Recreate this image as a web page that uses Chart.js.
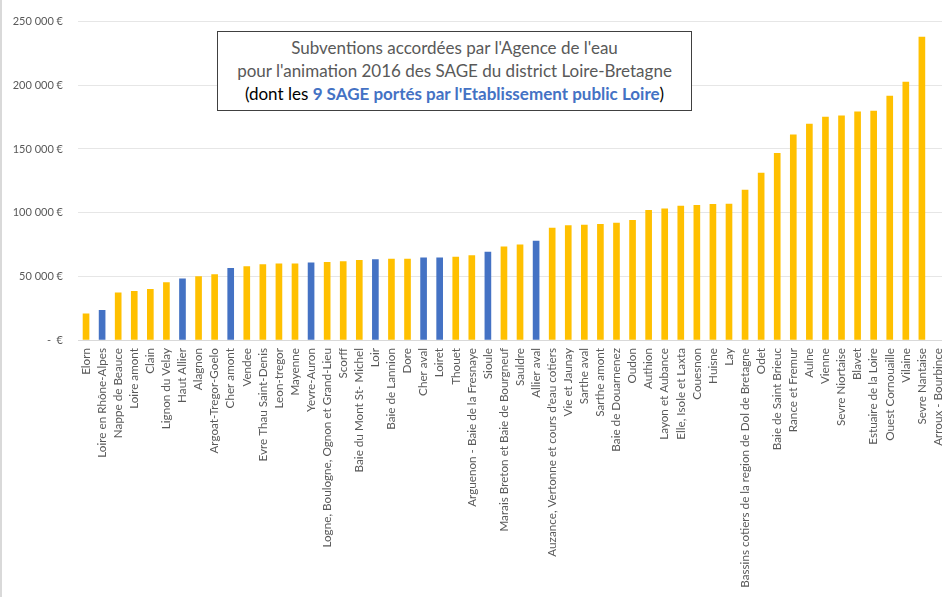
<!DOCTYPE html>
<html>
<head>
<meta charset="utf-8">
<script src="https://cdn.jsdelivr.net/npm/chart.js@4.4.1/dist/chart.umd.min.js"></script>
<style>
  html, body { margin: 0; padding: 0; background: #fff; overflow: hidden; }
  #wrap { position: relative; width: 960px; height: 597px; }
  #edge { position: absolute; left: 0; top: 0; width: 2px; height: 597px; background: #d9d9d9; }
  #titleBox {
    position: absolute; left: 217px; top: 31px; width: 473px; height: 74px;
    border: 1.5px solid #404040; background: #fff;
    font-family: Lato, "Open Sans", sans-serif; font-size: 17px; line-height: 23px;
    color: #595959; text-align: center; padding-top: 4px; box-sizing: content-box;
  }
  #titleBox .dark { color: #000; }
  #titleBox b { color: #4472c4; }
</style>
</head>
<body>
<div id="wrap">
  <canvas id="sageChart"></canvas>
  <div id="edge"></div>
  <div id="titleBox">
    Subventions accordées par l'Agence de l'eau<br>
    pour l'animation 2016 des SAGE du district Loire-Bretagne<br>
    <span class="dark">(dont les <b>9 SAGE portés par l'Etablissement public Loire</b>)</span>
  </div>
</div>
<script>
const sageNames = [
  'Elorn', 'Loire en Rhône-Alpes', 'Nappe de Beauce', 'Loire amont', 'Clain',
  'Lignon du Velay', 'Haut Allier', 'Alagnon', 'Argoat-Tregor-Goelo', 'Cher amont',
  'Vendee', 'Evre Thau Saint-Denis', 'Leon-tregor', 'Mayenne', 'Yevre-Auron',
  'Logne, Boulogne, Ognon et Grand-Lieu', 'Scorff', 'Baie du Mont St- Michel', 'Loir', 'Baie de Lannion',
  'Dore', 'Cher aval', 'Loiret', 'Thouet', 'Arguenon - Baie de la Fresnaye',
  'Sioule', 'Marais Breton et Baie de Bourgneuf', 'Sauldre', 'Allier aval', "Auzance, Vertonne et cours d'eau cotiers",
  'Vie et Jaunay', 'Sarthe aval', 'Sarthe amont', 'Baie de Douarnenez', 'Oudon',
  'Authion', 'Layon et Aubance', 'Elle, Isole et Laxta', 'Couesnon', 'Huisne',
  'Lay', 'Bassins cotiers de la region de Dol de Bretagne', 'Odet', 'Baie de Saint Brieuc', 'Rance et Fremur',
  'Aulne', 'Vienne', 'Sevre Niortaise', 'Blavet', 'Estuaire de la Loire',
  'Ouest Cornouaille', 'Vilaine', 'Sevre Nantaise', 'Arroux - Bourbince'
];

const subventions = [
  20600, 23200, 37000, 38200, 39700,
  45000, 48100, 49700, 51300, 56200,
  57700, 59300, 59800, 59800, 60500,
  61000, 61500, 62600, 63100, 63600,
  63600, 64600, 64600, 65200, 66200,
  69100, 73200, 74800, 77600, 87800,
  89800, 90300, 90900, 91900, 94000,
  101800, 103000, 105100, 105700, 106500,
  106700, 117800, 131100, 146600, 161000,
  169500, 175000, 176000, 179100, 179700,
  191600, 202500, 237800, null
];

// SAGE portés par l'Etablissement public Loire
const portesEPL = [
  'Loire en Rhône-Alpes', 'Haut Allier', 'Cher amont', 'Yevre-Auron', 'Loir',
  'Cher aval', 'Loiret', 'Sioule', 'Allier aval'
];

const yTicks = [0, 50000, 100000, 150000, 200000, 250000];

const yellow = '#ffc000';
const blue = '#4472c4';
const barColors = sageNames.map(name => portesEPL.includes(name) ? blue : yellow);

function formatEuro(v) {
  if (v === 0) return '-  €';
  return String(v).replace(/\B(?=(\d{3})+(?!\d))/g, ' ') + ' €';
}

const tickFont = { family: 'Lato, "Open Sans", sans-serif', size: 11 };

new Chart(document.getElementById('sageChart'), {
  type: 'bar',
  data: {
    labels: sageNames,
    datasets: [{
      data: subventions,
      backgroundColor: barColors,
      borderWidth: 0,
      barThickness: 6
    }]
  },
  options: {
    responsive: true,
    maintainAspectRatio: false,
    animation: false,
    layout: { padding: { top: 19, left: 0, right: 0, bottom: 0 } },
    plugins: {
      legend: { display: false },
      tooltip: { enabled: false }
    },
    scales: {
      x: {
        grid: { display: false, drawTicks: false },
        border: { color: '#d9d9d9' },
        ticks: {
          color: '#595959', font: { family: tickFont.family, size: 11.7 },
          autoSkip: false, maxRotation: 90, minRotation: 90, padding: 8
        },
        afterFit: scale => { scale.height = 257; }
      },
      y: {
        min: 0, max: 250000,
        grid: { color: '#e6e6e6', drawTicks: false },
        border: { display: false },
        afterBuildTicks: scale => { scale.ticks = yTicks.map(v => ({ value: v })); },
        ticks: {
          color: '#595959', font: tickFont, padding: 15,
          callback: v => formatEuro(v)
        },
        afterFit: scale => { scale.width = 78; }
      }
    }
  }
});
</script>
</body>
</html>
